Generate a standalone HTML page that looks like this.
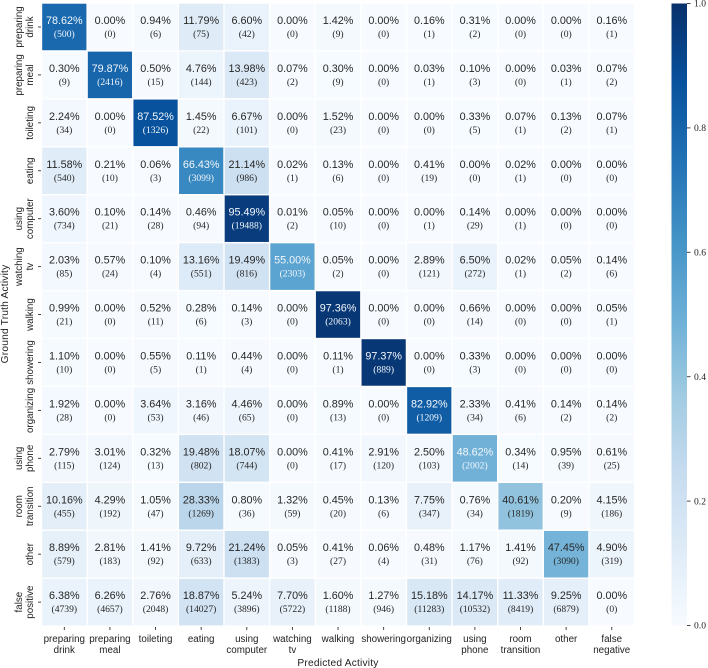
<!DOCTYPE html>
<html lang="en">
<head>
<meta charset="utf-8">
<title>Confusion matrix</title>
<style>
html,body{margin:0;padding:0;background:#fff;}
svg{display:block;}
text{fill:#222;}
.sans{font-family:"Liberation Sans",sans-serif;}
.serif{font-family:"Liberation Serif",serif;}
</style>
</head>
<body>
<svg id="chart" width="708" height="668" viewBox="0 0 708 668" xmlns="http://www.w3.org/2000/svg"></svg>
<script>
const predictedLabels = [["preparing","drink"],["preparing","meal"],["toileting"],["eating"],["using","computer"],["watching","tv"],["walking"],["showering"],["organizing"],["using","phone"],["room","transition"],["other"],["false","negative"]];
const truthLabels = [["preparing","drink"],["preparing","meal"],["toileting"],["eating"],["using","computer"],["watching","tv"],["walking"],["showering"],["organizing"],["using","phone"],["room","transition"],["other"],["false","positive"]];
const percentages = [
[78.62,0.00,0.94,11.79,6.60,0.00,1.42,0.00,0.16,0.31,0.00,0.00,0.16],
[0.30,79.87,0.50,4.76,13.98,0.07,0.30,0.00,0.03,0.10,0.00,0.03,0.07],
[2.24,0.00,87.52,1.45,6.67,0.00,1.52,0.00,0.00,0.33,0.07,0.13,0.07],
[11.58,0.21,0.06,66.43,21.14,0.02,0.13,0.00,0.41,0.00,0.02,0.00,0.00],
[3.60,0.10,0.14,0.46,95.49,0.01,0.05,0.00,0.00,0.14,0.00,0.00,0.00],
[2.03,0.57,0.10,13.16,19.49,55.00,0.05,0.00,2.89,6.50,0.02,0.05,0.14],
[0.99,0.00,0.52,0.28,0.14,0.00,97.36,0.00,0.00,0.66,0.00,0.00,0.05],
[1.10,0.00,0.55,0.11,0.44,0.00,0.11,97.37,0.00,0.33,0.00,0.00,0.00],
[1.92,0.00,3.64,3.16,4.46,0.00,0.89,0.00,82.92,2.33,0.41,0.14,0.14],
[2.79,3.01,0.32,19.48,18.07,0.00,0.41,2.91,2.50,48.62,0.34,0.95,0.61],
[10.16,4.29,1.05,28.33,0.80,1.32,0.45,0.13,7.75,0.76,40.61,0.20,4.15],
[8.89,2.81,1.41,9.72,21.24,0.05,0.41,0.06,0.48,1.17,1.41,47.45,4.90],
[6.38,6.26,2.76,18.87,5.24,7.70,1.60,1.27,15.18,14.17,11.33,9.25,0.00]
];
const counts = [
[500,0,6,75,42,0,9,0,1,2,0,0,1],
[9,2416,15,144,423,2,9,0,1,3,0,1,2],
[34,0,1326,22,101,0,23,0,0,5,1,2,1],
[540,10,3,3099,986,1,6,0,19,0,1,0,0],
[734,21,28,94,19488,2,10,0,1,29,1,0,0],
[85,24,4,551,816,2303,2,0,121,272,1,2,6],
[21,0,11,6,3,0,2063,0,0,14,0,0,1],
[10,0,5,1,4,0,1,889,0,3,0,0,0],
[28,0,53,46,65,0,13,0,1209,34,6,2,2],
[115,124,13,802,744,0,17,120,103,2002,14,39,25],
[455,192,47,1269,36,59,20,6,347,34,1819,9,186],
[579,183,92,633,1383,3,27,4,31,76,92,3090,319],
[4739,4657,2048,14027,3896,5722,1188,946,11283,10532,8419,6879,0]
];
const colorbarTicks = [0.0,0.2,0.4,0.6,0.8,1.0];
const blues = ["#f7fbff","#deebf7","#c6dbef","#9ecae1","#6baed6","#4292c6","#2171b5","#08519c","#08306b"];

const svg = document.getElementById('chart');
const NS = 'http://www.w3.org/2000/svg';
const left = 41.5, top0 = 3, pitchX = 45.62, pitchY = 47.93;
const xPos = i => left + pitchX * i;
const yPos = i => top0 + pitchY * i;
const cbTop = 3.5, cbBottom = 625.5, cbLeft = 671.5, cbRight = 687;
const cbY = v => cbBottom - (cbBottom - cbTop) * v;

function mk(tag, attrs, text, parent) {
  const el = document.createElementNS(NS, tag);
  for (const k in attrs) el.setAttribute(k, attrs[k]);
  if (text !== undefined) el.textContent = text;
  (parent || svg).appendChild(el);
  return el;
}
function hexRgb(h){return [1,3,5].map(i=>parseInt(h.substr(i,2),16));}
function colorFor(v){
  const t = Math.max(0,Math.min(1,v))*(blues.length-1);
  const i = Math.min(Math.floor(t),blues.length-2);
  const a = hexRgb(blues[i]), b = hexRgb(blues[i+1]), f = t-i;
  return 'rgb('+a.map((c,k)=>Math.round(c+(b[k]-c)*f)).join(',')+')';
}

// heatmap cells
percentages.forEach((row, r) => {
  row.forEach((p, c) => {
    const g = mk('g', {});
    
    
    const v = p / 100;
    mk('rect', {x: xPos(c)+0.7, y: yPos(r)+0.7, width: pitchX-1.4, height: pitchY-1.4, fill: colorFor(v)}, undefined, g);
    const col = v > 0.48 ? '#f2f7fb' : '#262626';
    const cx = xPos(c) + pitchX/2, cy = yPos(r) + pitchY/2;
    mk('text', {class:'sans', x: cx, y: cy-3, 'text-anchor':'middle', 'font-size':'10.8', style:'fill:'+col}, p.toFixed(2)+'%', g);
    mk('text', {class:'serif', x: cx, y: cy+10, 'text-anchor':'middle', 'font-size':'9.6', style:'fill:'+col}, '('+counts[r][c]+')', g);
  });
});

// x axis
predictedLabels.forEach((lines, i) => {
  const cx = xPos(i) + pitchX/2;
  const t = mk('line', {x1:cx, x2:cx, y1:627, y2:630, stroke:'#333', 'stroke-width':'0.9'});
  
  
  lines.forEach((s, k) => {
    const l = mk('text', {class:'sans', x:cx, y:642+k*11, 'text-anchor':'middle', 'font-size':'9.8'}, s);
    
    
  });
});
// y axis
truthLabels.forEach((lines, i) => {
  const cy = yPos(i) + pitchY/2;
  const t = mk('line', {x1:38, x2:41, y1:cy, y2:cy, stroke:'#333', 'stroke-width':'0.9'});
  
  
  lines.forEach((s, k) => {
    const bx = lines.length === 2 ? 22 + k*11 : 33;
    const l = mk('text', {class:'sans', x:0, y:0, transform:'translate('+bx+','+cy+') rotate(-90)', 'text-anchor':'middle', 'font-size':'9.8'}, s);
    
    
  });
});

// axis titles
const xt = mk('text', {class:'sans', x:338, y:666, 'text-anchor':'middle', 'font-size':'10.2', 'letter-spacing':'0.2'}, 'Predicted Activity');


const yt = mk('text', {class:'sans', x:0, y:0, transform:'translate(8,314) rotate(-90)', 'text-anchor':'middle', 'font-size':'10.2', 'letter-spacing':'0.2'}, 'Ground Truth Activity');



// colorbar
const defs = mk('defs', {});
const grad = mk('linearGradient', {id:'cbGrad', x1:'0', y1:'1', x2:'0', y2:'0'}, undefined, defs);
blues.forEach((c, i) => mk('stop', {offset: i/(blues.length-1), 'stop-color': c}, undefined, grad));
const cb = mk('rect', {x:cbLeft, y:cbTop, width:cbRight-cbLeft, height:cbBottom-cbTop, fill:'url(#cbGrad)'});


colorbarTicks.forEach(v => {
  const y = cbY(v);
  const t = mk('line', {x1:cbRight, x2:cbRight+3.5, y1:y, y2:y, stroke:'#333', 'stroke-width':'0.9'});
  
  
  const l = mk('text', {class:'serif', x:694, y:y+3.2, 'font-size':'9.6'}, v.toFixed(1));
  
  
});
</script>
</body>
</html>
